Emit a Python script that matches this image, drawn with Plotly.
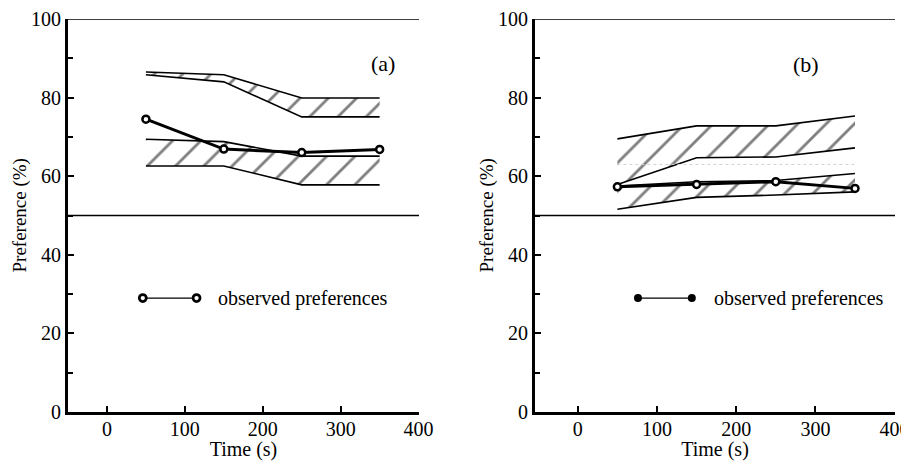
import plotly.graph_objects as go
from plotly.subplots import make_subplots

# ---------------- data ----------------
time_s = [50, 150, 250, 350]

# panel (a)
obs_a = [74.5, 66.9, 66.0, 66.8]
upper_a_top = [86.5, 85.8, 79.9, 79.9]
upper_a_bot = [85.8, 84.0, 75.1, 75.1]
lower_a_top = [69.4, 68.8, 65.1, 65.1]
lower_a_bot = [62.6, 62.6, 57.8, 57.8]

# panel (b)
obs_b = [57.3, 57.9, 58.6, 56.9]
upper_b_top = [69.5, 72.8, 72.8, 75.3]
upper_b_bot = [57.9, 64.7, 64.9, 67.2]
lower_b_top = [57.5, 58.6, 58.9, 60.7]
lower_b_bot = [51.6, 54.6, 55.2, 56.0]
faint_b = [63.0, 63.0, 63.0, 63.0]

x_ticks = [0, 100, 200, 300, 400]
y_ticks = [0, 20, 40, 60, 80, 100]
legend_text = "observed preferences"
x_title = "Time (s)"
y_title = "Preference (%)"

# legend sample placement (layout, not data)
LEG_A_X = [46, 115]
LEG_B_X = [76, 144]
LEG_Y = [29, 29]

FONT = "Liberation Serif"

fig = make_subplots(rows=1, cols=2, horizontal_spacing=0.05)

hatch = dict(shape="/", fgcolor="black", bgcolor="white", size=20, solidity=0.14)
band_line = dict(color="black", width=1.6)


def add_band(bot, top, col):
    fig.add_trace(go.Scatter(x=time_s, y=bot, mode="lines", line=band_line,
                             showlegend=False, hoverinfo="skip"), row=1, col=col)
    fig.add_trace(go.Scatter(x=time_s, y=top, mode="lines", line=band_line,
                             fill="tonexty", fillpattern=hatch, fillcolor="white",
                             showlegend=False, hoverinfo="skip"), row=1, col=col)


add_band(upper_a_bot, upper_a_top, 1)
add_band(lower_a_bot, lower_a_top, 1)
add_band(upper_b_bot, upper_b_top, 2)
add_band(lower_b_bot, lower_b_top, 2)

fig.add_trace(go.Scatter(x=time_s, y=faint_b, mode="lines",
                         line=dict(color="#d0d0d0", width=1, dash="dot"),
                         showlegend=False, hoverinfo="skip"), row=1, col=2)

obs_marker = dict(symbol="circle", size=7, color="white", line=dict(color="black", width=2.5))
for col, obs in ((1, obs_a), (2, obs_b)):
    fig.add_trace(go.Scatter(x=time_s, y=obs, mode="lines+markers",
                             line=dict(color="black", width=3), marker=obs_marker,
                             showlegend=False), row=1, col=col)

# legend samples
fig.add_trace(go.Scatter(x=LEG_A_X, y=LEG_Y, mode="lines+markers",
                         line=dict(color="black", width=1.2),
                         marker=dict(symbol="circle", size=7, color="white",
                                     line=dict(color="black", width=2.7)),
                         showlegend=False), row=1, col=1)
fig.add_trace(go.Scatter(x=LEG_B_X, y=LEG_Y, mode="lines+markers",
                         line=dict(color="black", width=1.2),
                         marker=dict(symbol="circle", size=8, color="black"),
                         showlegend=False), row=1, col=2)

axis_common = dict(showgrid=False, zeroline=False, showline=True, linecolor="black",
                   linewidth=3, ticks="inside", tickcolor="black", tickwidth=2,
                   automargin=False, ticklabeloverflow="allow",
                   tickfont=dict(family=FONT, size=20, color="black"))

fig.update_xaxes(**axis_common, tickvals=x_ticks, ticklen=6, ticklabelstandoff=-3,
                 title=dict(text=x_title, font=dict(family=FONT, size=20, color="black")))
fig.update_xaxes(range=[-50, 400.5], domain=[0, 0.4244], row=1, col=1)
fig.update_xaxes(range=[-54, 400.5], domain=[0.5647, 1.0], row=1, col=2)

fig.update_yaxes(**axis_common, range=[0, 100], tickvals=y_ticks, ticklen=6,
                 minor=dict(dtick=10, tick0=0, ticks="inside", ticklen=5,
                            tickcolor="black", tickwidth=1.5))

for xr, yr in (("x", "y"), ("x2", "y2")):
    for yv in (100, 50):
        fig.add_shape(type="line", xref=f"{xr} domain", yref=yr, x0=0, x1=1,
                      y0=yv, y1=yv, line=dict(color="black", width=1.5))
    # y-axis title
    fig.add_annotation(x=0, y=0.5, xref=f"{xr} domain", yref=f"{yr} domain",
                       xanchor="center", yanchor="middle",
                       text=y_title, textangle=-90, showarrow=False, xshift=-49,
                       font=dict(family=FONT, size=19, color="black"))

fig.add_annotation(x=354, y=88.6, xref="x", yref="y", text="(a)", showarrow=False,
                   font=dict(family=FONT, size=22, color="black"))
fig.add_annotation(x=288, y=88.3, xref="x2", yref="y2", text="(b)", showarrow=False,
                   font=dict(family=FONT, size=22, color="black"))
fig.add_annotation(x=140, y=29, xref="x", yref="y", text=legend_text, showarrow=False,
                   xanchor="left", font=dict(family=FONT, size=20, color="black"))
fig.add_annotation(x=170, y=29, xref="x2", yref="y2", text=legend_text, showarrow=False,
                   xanchor="left", font=dict(family=FONT, size=20, color="black"))

# page body adds an 8px offset; compensate so the plot lands where the reference has it
fig.update_layout(width=901, height=453, margin=dict(l=60, r=14, t=11, b=49),
                  paper_bgcolor="white", plot_bgcolor="white", showlegend=False)

fig.write_html("out.html")
